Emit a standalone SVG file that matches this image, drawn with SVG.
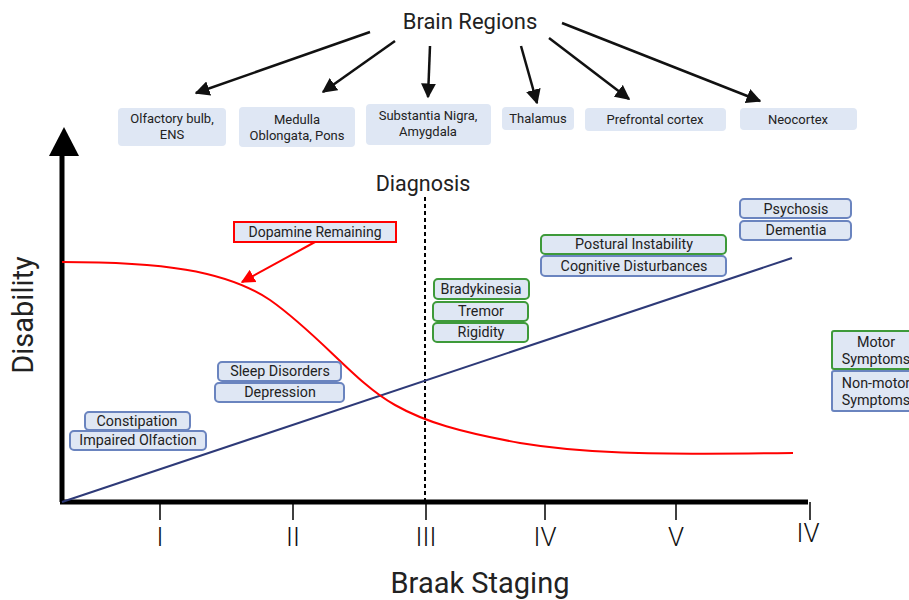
<svg xmlns="http://www.w3.org/2000/svg" width="909" height="600" viewBox="0 0 909 600">
<defs>
<marker id="ah" viewBox="0 0 10 10" refX="9" refY="5" markerWidth="6" markerHeight="6" orient="auto" markerUnits="strokeWidth"><path d="M0,0 L10,5 L0,10 z" fill="#111"/></marker>
<marker id="ahr" viewBox="0 0 10 10" refX="9" refY="5" markerWidth="7" markerHeight="7" orient="auto" markerUnits="strokeWidth"><path d="M0,0 L10,5 L0,10 z" fill="#f00"/></marker>
</defs>
<style>
text{font-family:Roboto,"Liberation Sans",sans-serif;fill:#222}
.reg rect{fill:#dfe7f4;stroke:none}
.reg text{font-size:13px;text-anchor:middle}
.nm rect{fill:#dfe7f4;stroke:#6a84bf;stroke-width:2}
.mo rect{fill:#dfe7f4;stroke:#3e9a3a;stroke-width:2}
.sym text{font-size:14.3px;text-anchor:middle}
.ax{stroke:#000;stroke-width:5;fill:none}
.tk{stroke:#000;stroke-width:1.5}
.num{font-size:26px;font-weight:300;text-anchor:middle;fill:#111}
.ar{stroke:#111;stroke-width:2.5;fill:none;marker-end:url(#ah)}
</style>
<rect width="909" height="600" fill="#fff"/>
<text x="470" y="29" font-size="22" text-anchor="middle">Brain Regions</text>
<g id="connectors">
<line class="ar" x1="370" y1="32" x2="196" y2="93"/>
<line class="ar" x1="395" y1="41" x2="323" y2="92"/>
<line class="ar" x1="430" y1="46" x2="428" y2="97"/>
<line class="ar" x1="521" y1="46" x2="537" y2="103"/>
<line class="ar" x1="549" y1="38" x2="629" y2="99"/>
<line class="ar" x1="562" y1="23" x2="760" y2="101"/>
<line x1="315" y1="242" x2="242" y2="282" stroke="#f00" stroke-width="2" marker-end="url(#ahr)"/>
</g>
<g id="r1" class="reg"><rect x="118" y="108" width="108" height="38" rx="4"/><text x="172" y="123">Olfactory bulb,</text><text x="172" y="139">ENS</text></g>
<g id="r2" class="reg"><rect x="239" y="107" width="116" height="40" rx="4"/><text x="297" y="124">Medulla</text><text x="297" y="140">Oblongata, Pons</text></g>
<g id="r3" class="reg"><rect x="366" y="104" width="125" height="41" rx="4"/><text x="428" y="120">Substantia Nigra,</text><text x="428" y="136">Amygdala</text></g>
<g id="r4" class="reg"><rect x="502" y="107" width="72" height="23" rx="4"/><text x="538" y="123">Thalamus</text></g>
<g id="r5" class="reg"><rect x="585" y="108" width="141" height="23" rx="4"/><text x="655" y="124">Prefrontal cortex</text></g>
<g id="r6" class="reg"><rect x="740" y="108" width="117" height="22" rx="4"/><text x="798" y="124">Neocortex</text></g>
<g id="axes">
<line class="ax" x1="62" y1="150" x2="62" y2="502"/>
<path d="M49,156 L64,127 L79,156 z" fill="#000"/>
<line class="ax" x1="60" y1="502" x2="808" y2="502"/>
<line class="tk" x1="160" y1="502" x2="160" y2="520"/>
<line class="tk" x1="293" y1="502" x2="293" y2="520"/>
<line class="tk" x1="426" y1="502" x2="426" y2="520"/>
<line class="tk" x1="545" y1="502" x2="545" y2="520"/>
<line class="tk" x1="676" y1="502" x2="676" y2="520"/>
<line class="tk" x1="810" y1="502" x2="810" y2="520"/>
<text class="num" x="160" y="546">I</text>
<text class="num" x="293" y="546">II</text>
<text class="num" x="426" y="546">III</text>
<text class="num" x="545" y="546">IV</text>
<text class="num" x="676" y="546">V</text>
<text class="num" x="808" y="542">IV</text>
<text x="480" y="593" font-size="29" text-anchor="middle">Braak Staging</text>
<text transform="translate(33,315) rotate(-90)" font-size="29" text-anchor="middle">Disability</text>
<text x="423" y="191" font-size="21.5" text-anchor="middle">Diagnosis</text>
<line x1="425" y1="197" x2="425" y2="502" stroke="#000" stroke-width="2" stroke-dasharray="4,3"/>
</g>
<g id="curves">
<line x1="62" y1="502" x2="792" y2="258" stroke="#2e3a78" stroke-width="2"/>
<path d="M62,262 C160,262 225,270 270,300 C320,335 355,383 395,405 C425,422 460,432 520,443 C580,453 640,455 793,453" fill="none" stroke="#f00" stroke-width="2"/>
</g>
<g id="dopamine"><rect x="234" y="222" width="162" height="20" fill="#dfe7f4" stroke="#f00" stroke-width="2"/><text x="315" y="237" font-size="14" text-anchor="middle">Dopamine Remaining</text></g>
<g id="s1" class="sym nm"><rect x="85" y="412" width="105" height="18" rx="4"/><text x="137" y="426">Constipation</text></g>
<g id="s2" class="sym nm"><rect x="70" y="431" width="136" height="19" rx="4"/><text x="138" y="445">Impaired Olfaction</text></g>
<g id="s3" class="sym nm"><rect x="218" y="362" width="123" height="19" rx="4"/><text x="280" y="376">Sleep Disorders</text></g>
<g id="s4" class="sym nm"><rect x="215" y="383" width="129" height="19" rx="4"/><text x="280" y="397">Depression</text></g>
<g id="s5" class="sym mo"><rect x="434" y="279" width="95" height="20" rx="4"/><text x="481" y="294">Bradykinesia</text></g>
<g id="s6" class="sym mo"><rect x="433" y="302" width="95" height="19" rx="4"/><text x="481" y="316">Tremor</text></g>
<g id="s7" class="sym mo"><rect x="433" y="323" width="95" height="19" rx="4"/><text x="481" y="337">Rigidity</text></g>
<g id="s8" class="sym mo"><rect x="541" y="235" width="185" height="19" rx="4"/><text x="634" y="249">Postural Instability</text></g>
<g id="s9" class="sym nm"><rect x="541" y="256" width="185" height="20" rx="4"/><text x="634" y="271">Cognitive Disturbances</text></g>
<g id="s10" class="sym nm"><rect x="740" y="199" width="111" height="19" rx="4"/><text x="796" y="214">Psychosis</text></g>
<g id="s11" class="sym nm"><rect x="740" y="221" width="111" height="19" rx="4"/><text x="796" y="235">Dementia</text></g>
<g id="leg1" class="sym mo"><rect x="832" y="331" width="90" height="38" rx="2"/><text x="876" y="347">Motor</text><text x="876" y="364">Symptoms</text></g>
<g id="leg2" class="sym nm"><rect x="832" y="371" width="90" height="40" rx="2"/><text x="876" y="388">Non-motor</text><text x="876" y="405">Symptoms</text></g>
</svg>
